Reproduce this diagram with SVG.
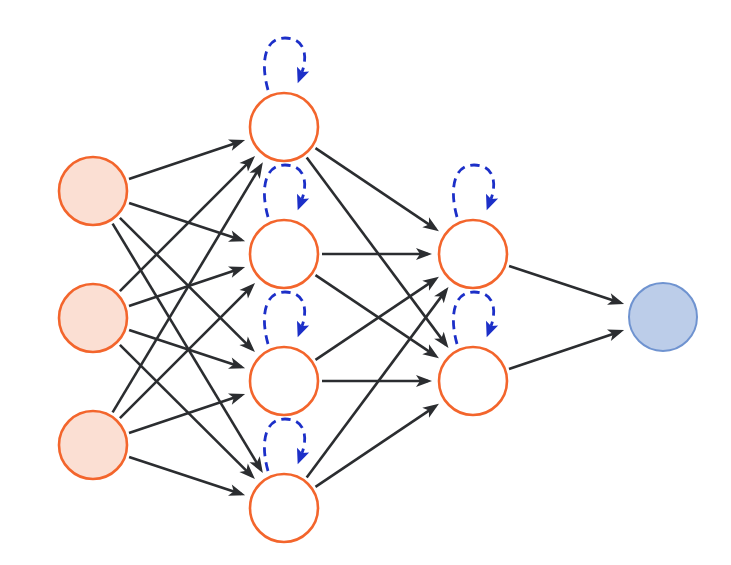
<svg xmlns="http://www.w3.org/2000/svg" width="731" height="565" viewBox="0 0 731 565">
<style>
.e{stroke:#2b2d30;stroke-width:2.6;fill:none;marker-end:url(#ah)}
.loop{stroke:#1c2fc8;stroke-width:2.8;fill:none;stroke-dasharray:9 6;marker-end:url(#bh)}
.in{fill:#fbdfd3;stroke:#f3652c;stroke-width:2.6}
.hid{fill:#ffffff;stroke:#f3652c;stroke-width:2.6}
.out{fill:#bccde9;stroke:#6f93d0;stroke-width:2}
</style>
<defs>
<marker id="ah" markerUnits="userSpaceOnUse" markerWidth="20" markerHeight="14" refX="12" refY="6" orient="auto" overflow="visible">
<path d="M0,0 L16,6 L0,12 L4,6 z" fill="#2b2d30"/>
</marker>
<marker id="bh" markerUnits="userSpaceOnUse" markerWidth="20" markerHeight="14" refX="3" refY="6.5" orient="auto" overflow="visible">
<path d="M0,0 L15,6.5 L0,13 L3,6.5 z" fill="#1c2fc8"/>
</marker>
</defs>
<rect width="731" height="565" fill="#ffffff"/>
<g id="connectors">
<path class="e" d="M129,178.9 L241.3,141.3"/>
<path class="e" d="M129.1,202.9 L241.3,239.9"/>
<path class="e" d="M119.9,217.8 L252.1,349.3"/>
<path class="e" d="M112.6,223.6 L260.8,469.5"/>
<path class="e" d="M119.9,291.1 L252.2,158.8"/>
<path class="e" d="M129,305.9 L241.3,268.3"/>
<path class="e" d="M129.1,329.9 L241.3,366.9"/>
<path class="e" d="M119.9,344.8 L252.1,476.3"/>
<path class="e" d="M112.6,412.4 L260.8,165.6"/>
<path class="e" d="M119.9,418.1 L252.2,285.8"/>
<path class="e" d="M129,432.9 L241.3,395.3"/>
<path class="e" d="M129.1,456.9 L241.3,493.9"/>
<path class="e" d="M315.5,148.2 L435.6,228.9"/>
<path class="e" d="M306.7,157.5 L446.1,344.9"/>
<path class="e" d="M322,254 L428,254"/>
<path class="e" d="M315.5,275.2 L435.6,355.9"/>
<path class="e" d="M315.5,359.8 L435.6,279.1"/>
<path class="e" d="M322,381 L428,381"/>
<path class="e" d="M306.7,477.5 L446.1,290.1"/>
<path class="e" d="M315.5,486.8 L435.6,406.1"/>
<path class="e" d="M509.1,266 L620.3,302.8"/>
<path class="e" d="M509,368.9 L620.3,331.4"/>
<path class="loop" transform="translate(284,127)" d="M-16,-37 C-23,-62 -21,-89 1,-89 C23,-89 23,-68 18,-55"/>
<path class="loop" transform="translate(284,254)" d="M-16,-37 C-23,-62 -21,-89 1,-89 C23,-89 23,-68 18,-55"/>
<path class="loop" transform="translate(284,381)" d="M-16,-37 C-23,-62 -21,-89 1,-89 C23,-89 23,-68 18,-55"/>
<path class="loop" transform="translate(284,508)" d="M-16,-37 C-23,-62 -21,-89 1,-89 C23,-89 23,-68 18,-55"/>
<path class="loop" transform="translate(473,254)" d="M-16,-37 C-23,-62 -21,-89 1,-89 C23,-89 23,-68 18,-55"/>
<path class="loop" transform="translate(473,381)" d="M-16,-37 C-23,-62 -21,-89 1,-89 C23,-89 23,-68 18,-55"/>
</g>
<g id="input1"><circle class="in" cx="93" cy="191" r="34"/></g>
<g id="input2"><circle class="in" cx="93" cy="318" r="34"/></g>
<g id="input3"><circle class="in" cx="93" cy="445" r="34"/></g>
<g id="hidden1a"><circle class="hid" cx="284" cy="127" r="34"/></g>
<g id="hidden1b"><circle class="hid" cx="284" cy="254" r="34"/></g>
<g id="hidden1c"><circle class="hid" cx="284" cy="381" r="34"/></g>
<g id="hidden1d"><circle class="hid" cx="284" cy="508" r="34"/></g>
<g id="hidden2a"><circle class="hid" cx="473" cy="254" r="34"/></g>
<g id="hidden2b"><circle class="hid" cx="473" cy="381" r="34"/></g>
<g id="output"><circle class="out" cx="663" cy="317" r="34"/></g>
</svg>
